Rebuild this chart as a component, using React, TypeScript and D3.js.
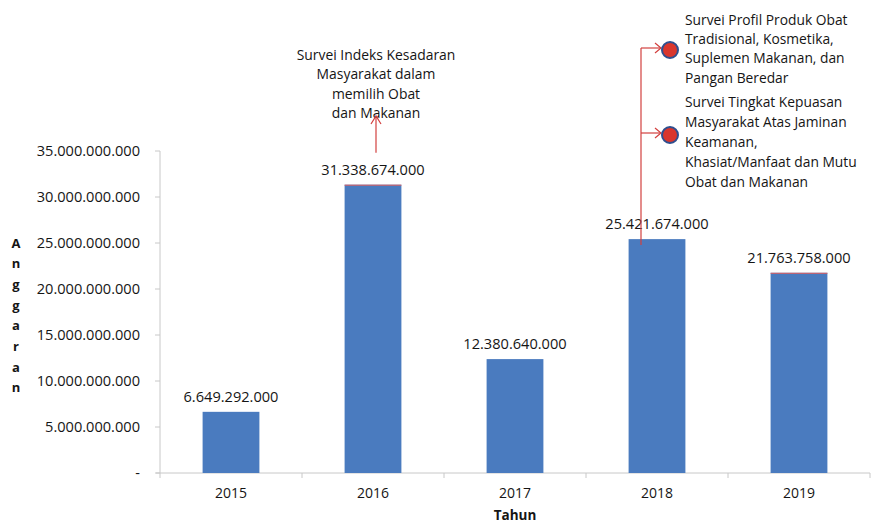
import React from "react";
import * as d3 from "d3";

const years = ["2015", "2016", "2017", "2018", "2019"];
const budgets = [6649292000, 31338674000, 12380640000, 25421674000, 21763758000];
const yTicks = [0, 5e9, 10e9, 15e9, 20e9, 25e9, 30e9, 35e9];
const yTitleLetters = ["A", "n", "g", "g", "a", "r", "a", "n"];
const note2016 = ["Survei Indeks Kesadaran", "Masyarakat dalam", "memilih Obat", "dan Makanan"];
const note2018a = ["Survei Profil Produk Obat", "Tradisional, Kosmetika,", "Suplemen Makanan, dan", "Pangan Beredar"];
const note2018b = [
  "Survei Tingkat Kepuasan",
  "Masyarakat Atas Jaminan",
  "Keamanan,",
  "Khasiat/Manfaat dan Mutu",
  "Obat dan Makanan",
];

const W = 872;
const H = 523;
const FONT = "'Open Sans', 'Liberation Sans', sans-serif";
const RED = "#d2403f";
const TXT = "#151515";

const fmt = (v: number) => (v === 0 ? "-" : d3.format(",")(v).replace(/,/g, "."));

export default function App() {
  const x = d3.scaleBand<string>().domain(years).range([160, 870]).padding(0);
  const y = d3.scaleLinear().domain([0, 35e9]).range([473, 151]);
  const bw = x.bandwidth() * 0.4;
  const cx = (yr: string) => (x(yr) as number) + x.bandwidth() / 2;

  const c16 = cx("2016");
  const top16 = y(budgets[1]);
  const c18 = cx("2018");
  const top18 = y(budgets[3]);
  const lineX = c18 - 16;
  const branchY = [48, 133];

  return (
    <div style={{ position: "fixed", left: 0, top: 0 }}>
      <svg width={W} height={H} style={{ display: "block", background: "#fff" }} fontFamily={FONT}>
        {/* axes */}
        <line x1={160} x2={160} y1={y(35e9)} y2={y(0)} stroke="#c8c8c8" strokeWidth={1} />
        <line x1={156} x2={870} y1={y(0)} y2={y(0)} stroke="#c8c8c8" strokeWidth={1} />
        {yTicks.map((t) => (
          <g key={t}>
            <line x1={155} x2={160} y1={y(t)} y2={y(t)} stroke="#c8c8c8" />
            <text x={140} y={y(t)} dy="0.35em" textAnchor="end" fontSize={14.6} fill={TXT}>
              {fmt(t)}
            </text>
          </g>
        ))}
        {years.map((yr) => (
          <line key={"t" + yr} x1={x(yr) as number} x2={x(yr) as number} y1={y(0)} y2={y(0) + 5} stroke="#c8c8c8" />
        ))}
        <line x1={870} x2={870} y1={y(0)} y2={y(0) + 5} stroke="#c8c8c8" />

        {/* bars */}
        {years.map((yr, i) => (
          <g key={yr}>
            <rect
              x={cx(yr) - bw / 2}
              y={y(budgets[i])}
              width={bw}
              height={y(0) - y(budgets[i])}
              fill="#4a7bbf"
            />
            <text x={cx(yr)} y={y(budgets[i]) - 15} dy="0.35em" textAnchor="middle" fontSize={14.6} fill={TXT}>
              {fmt(budgets[i])}
            </text>
            <text x={cx(yr)} y={493} dy="0.35em" textAnchor="middle" fontSize={14} fill={TXT}>
              {yr}
            </text>
          </g>
        ))}
        {[1, 4].map((i) => (
          <line
            key={"rl" + i}
            x1={cx(years[i]) - bw / 2}
            x2={cx(years[i]) + bw / 2}
            y1={y(budgets[i]) + 0.5}
            y2={y(budgets[i]) + 0.5}
            stroke="#e06060"
            strokeWidth={1}
          />
        ))}

        {/* axis titles */}
        <text x={515} y={515} dy="0.35em" textAnchor="middle" fontSize={13.5} fontWeight="bold" fill={TXT}>
          Tahun
        </text>
        {yTitleLetters.map((l, i) => (
          <text key={i} x={16} y={243 + i * 20.7} dy="0.35em" textAnchor="middle" fontSize={13} fontWeight="bold" fill={TXT}>
            {l}
          </text>
        ))}

        {/* 2016 annotation */}
        {note2016.map((l, i) => (
          <text key={l} x={c16 + 3} y={55 + i * 19.5} dy="0.35em" textAnchor="middle" fontSize={13.9} fill={TXT}>
            {l}
          </text>
        ))}
        <line x1={c16 + 3} x2={c16 + 3} y1={top16 - 32} y2={116} stroke={RED} strokeWidth={1.2} />
        <path
          d={`M${c16 + 3 - 5},${124} L${c16 + 3},${116} L${c16 + 3 + 5},${124}`}
          fill="none"
          stroke={RED}
          strokeWidth={1.2}
        />

        {/* 2018 annotation */}
        <line x1={lineX} x2={lineX} y1={top18 + 6} y2={branchY[0]} stroke={RED} strokeWidth={1.2} />
        {branchY.map((by) => (
          <g key={by}>
            <line x1={lineX} x2={661} y1={by} y2={by} stroke={RED} strokeWidth={1.2} />
            <path d={`M${655},${by - 5} L${661},${by} L${655},${by + 5}`} fill="none" stroke={RED} strokeWidth={1.2} />
            <circle cx={670} cy={by + 2} r={8} fill="#d9362d" stroke="#2f4f8f" strokeWidth={2} />
          </g>
        ))}
        {note2018a.map((l, i) => (
          <text key={l} x={685} y={20 + i * 19.3} dy="0.35em" fontSize={13.8} fill={TXT}>
            {l}
          </text>
        ))}
        {note2018b.map((l, i) => (
          <text key={l} x={685} y={102 + i * 20} dy="0.35em" fontSize={13.8} fill={TXT}>
            {l}
          </text>
        ))}
      </svg>
    </div>
  );
}
